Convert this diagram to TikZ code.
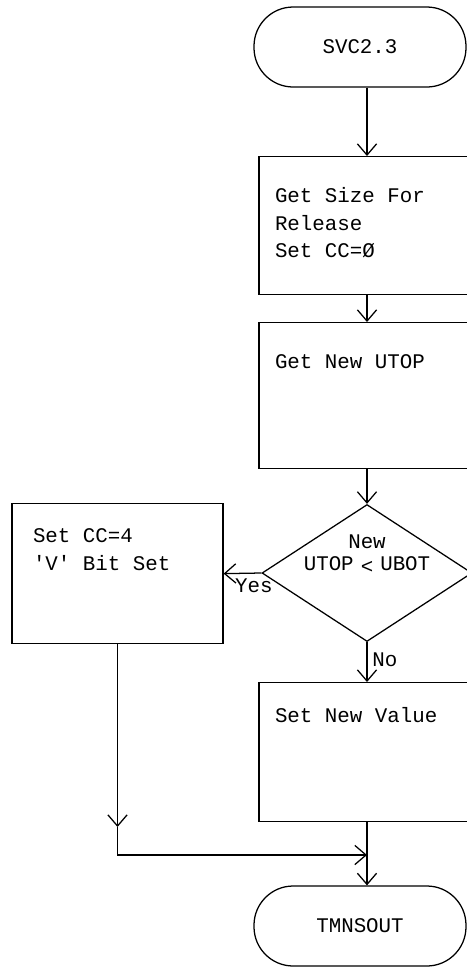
\documentclass[tikz,border=0pt]{standalone}
\usepackage{fontspec}
\setmainfont{Liberation Mono}
\usetikzlibrary{shapes.geometric,arrows.meta}
\newcommand{\flowfont}[1]{\fontsize{14.8}{#1}\selectfont}
\newcommand{\wsp}{\hspace{8.88pt}}

\begin{document}
\begin{tikzpicture}[font=\flowfont{19.5}, line width=0.9pt,
	flow/.style={-{Straight Barb[length=2.8mm,width=4.8mm]}},
	term/.style={rectangle,draw,rounded corners=0.98cm,minimum width=5.3cm,minimum height=2cm},
	stepbox/.style={rectangle,draw,anchor=north,align=left,inner ysep=0pt,inner xsep=0.4cm,minimum width=5.4cm,text width=4.6cm},
	decision/.style={diamond,draw,minimum width=5.25cm,minimum height=3.425cm,inner sep=0pt}]
	\useasboundingbox (0,0) rectangle (11.675,-24.175);
	\clip (0,0) rectangle (11.675,-24.175);
	\node (start) at (9.0,-1.175) [term] {SVC2.3};
	\node (size) at (9.175,-3.9) [stepbox,text height=1.15cm,text depth=2.3cm] {Get\wsp Size\wsp For\\Release\\Set\wsp CC=Ø};
	\node (utop) at (9.175,-8.05) [stepbox,text height=1.15cm,text depth=2.5cm] {Get\wsp New\wsp UTOP};
	\node (test) at (9.175,-14.325) [decision] {};
	\node (testtext) at (9.175,-13.85) [align=center,font=\flowfont{15.6}] {New\\UTOP\hspace{5pt}\raisebox{-2pt}{<}\hspace{5pt}UBOT};
	\node (setcc) at (2.9375,-12.575) [stepbox,minimum width=5.275cm,text width=4.225cm,inner xsep=0.525cm,text height=0.975cm,text depth=2.525cm] {Set\wsp CC=4\\\textquotesingle V\textquotesingle\wsp Bit\wsp Set};
	\node (value) at (9.175,-17.05) [stepbox,text height=1.0cm,text depth=2.475cm] {Set\wsp New\wsp Value};
	\node (exit) at (9.0,-23.15) [term] {TMNSOUT};
	% joins of the left branch
	\coordinate (down) at (setcc.south |- 0,-20.675);
	\coordinate (bend) at (setcc.south |- 0,-21.375);
	\coordinate (join) at (value.south |- 0,-21.375);
	\draw[flow] (start.south -| size.north) -- (size.north);
	\draw[flow] (size) -- (utop);
	\draw[flow] (utop) -- (test);
	\draw[flow] (test.west) -- node[below,pos=0.2] {Yes} (setcc.east);
	\draw[flow] (test.south) -- node[right,pos=0.45] {No} (value.north);
	\draw[flow] (value.south) -- (value.south |- exit.north);
	\draw[flow] (setcc.south) -- (down);
	\draw[flow] (down) -- (bend) -- (join);
\end{tikzpicture}
\end{document}
